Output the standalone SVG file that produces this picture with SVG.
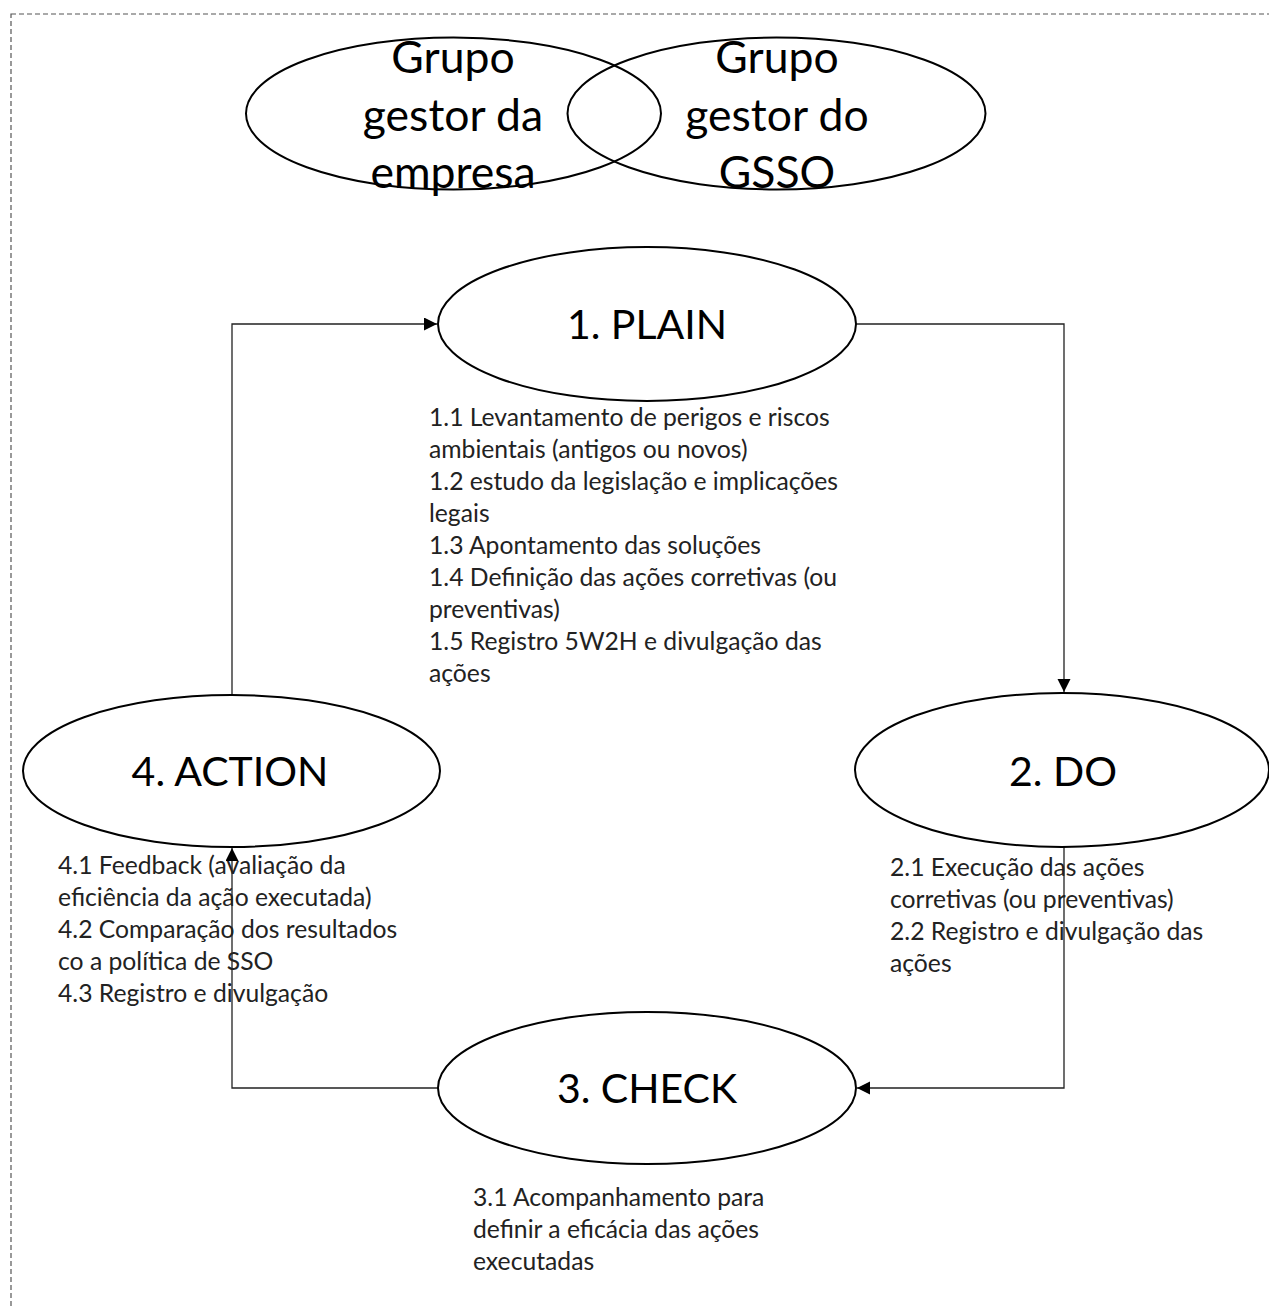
<svg xmlns="http://www.w3.org/2000/svg" width="1269" height="1308" viewBox="0 0 1269 1308">
<defs>
<style>
.frame{fill:none;stroke:#555;stroke-width:1.2;stroke-dasharray:5 3}
.ell{fill:none;stroke:#000;stroke-width:2}
.conn{fill:none;stroke:#222;stroke-width:1.3}
.title{font-family:Lato,"Noto Sans",sans-serif;font-size:44.5px;fill:#000;text-anchor:middle}
.big{font-family:Lato,"Noto Sans",sans-serif;font-size:41px;fill:#000;text-anchor:middle}
.sm{font-family:Lato,"Noto Sans",sans-serif;font-size:24.7px;fill:#222}
</style>
<marker id="arr" markerUnits="userSpaceOnUse" markerWidth="14" markerHeight="14" refX="13" refY="6.5" orient="auto">
<path d="M0,0 L13,6.5 L0,13 z" fill="#000"/>
</marker>
</defs>
<rect class="frame" x="11" y="14" width="1300" height="1330"/>
<g id="connectors">
<path class="conn" d="M856,324 H1064 V692" marker-end="url(#arr)"/>
<path class="conn" d="M1064,847 V1088 H857" marker-end="url(#arr)"/>
<path class="conn" d="M438,1088 H232 V848" marker-end="url(#arr)"/>
<path class="conn" d="M232,695 V324 H437" marker-end="url(#arr)"/>
</g>
<g id="grupo-empresa">
<ellipse class="ell" cx="453.5" cy="113.5" rx="207.5" ry="76"/>
<text class="title" x="453" y="73">Grupo</text>
<text class="title" x="453" y="131">gestor da</text>
<text class="title" x="453" y="188">empresa</text>
</g>
<g id="grupo-gsso">
<ellipse class="ell" cx="776.5" cy="113.5" rx="209" ry="76"/>
<text class="title" x="777" y="73">Grupo</text>
<text class="title" x="777" y="131">gestor do</text>
<text class="title" x="777" y="188">GSSO</text>
</g>
<g id="plain">
<ellipse class="ell" cx="647" cy="324" rx="209" ry="77"/>
<text class="big" x="647" y="339">1. PLAIN</text>
<text class="sm" x="429" y="426">1.1 Levantamento de perigos e riscos</text>
<text class="sm" x="429" y="458">ambientais (antigos ou novos)</text>
<text class="sm" x="429" y="490">1.2 estudo da legislação e implicações</text>
<text class="sm" x="429" y="522">legais</text>
<text class="sm" x="429" y="554">1.3 Apontamento das soluções</text>
<text class="sm" x="429" y="586">1.4 Definição das ações corretivas (ou</text>
<text class="sm" x="429" y="618">preventivas)</text>
<text class="sm" x="429" y="650">1.5 Registro 5W2H e divulgação das</text>
<text class="sm" x="429" y="682">ações</text>
</g>
<g id="do">
<ellipse class="ell" cx="1062" cy="770" rx="207" ry="77"/>
<text class="big" x="1063" y="786">2. DO</text>
<text class="sm" x="890" y="876">2.1 Execução das ações</text>
<text class="sm" x="890" y="908">corretivas (ou preventivas)</text>
<text class="sm" x="890" y="940">2.2 Registro e divulgação das</text>
<text class="sm" x="890" y="972">ações</text>
</g>
<g id="check">
<ellipse class="ell" cx="647" cy="1088" rx="209" ry="76"/>
<text class="big" x="647" y="1103">3. CHECK</text>
<text class="sm" x="473" y="1206">3.1 Acompanhamento para</text>
<text class="sm" x="473" y="1238">definir a eficácia das ações</text>
<text class="sm" x="473" y="1270">executadas</text>
</g>
<g id="action">
<ellipse class="ell" cx="231.5" cy="771" rx="208.5" ry="76"/>
<text class="big" x="230" y="786">4. ACTION</text>
<text class="sm" x="58" y="874">4.1 Feedback (avaliação da</text>
<text class="sm" x="58" y="906">eficiência da ação executada)</text>
<text class="sm" x="58" y="938">4.2 Comparação dos resultados</text>
<text class="sm" x="58" y="970">co a política de SSO</text>
<text class="sm" x="58" y="1002">4.3 Registro e divulgação</text>
</g>
</svg>
